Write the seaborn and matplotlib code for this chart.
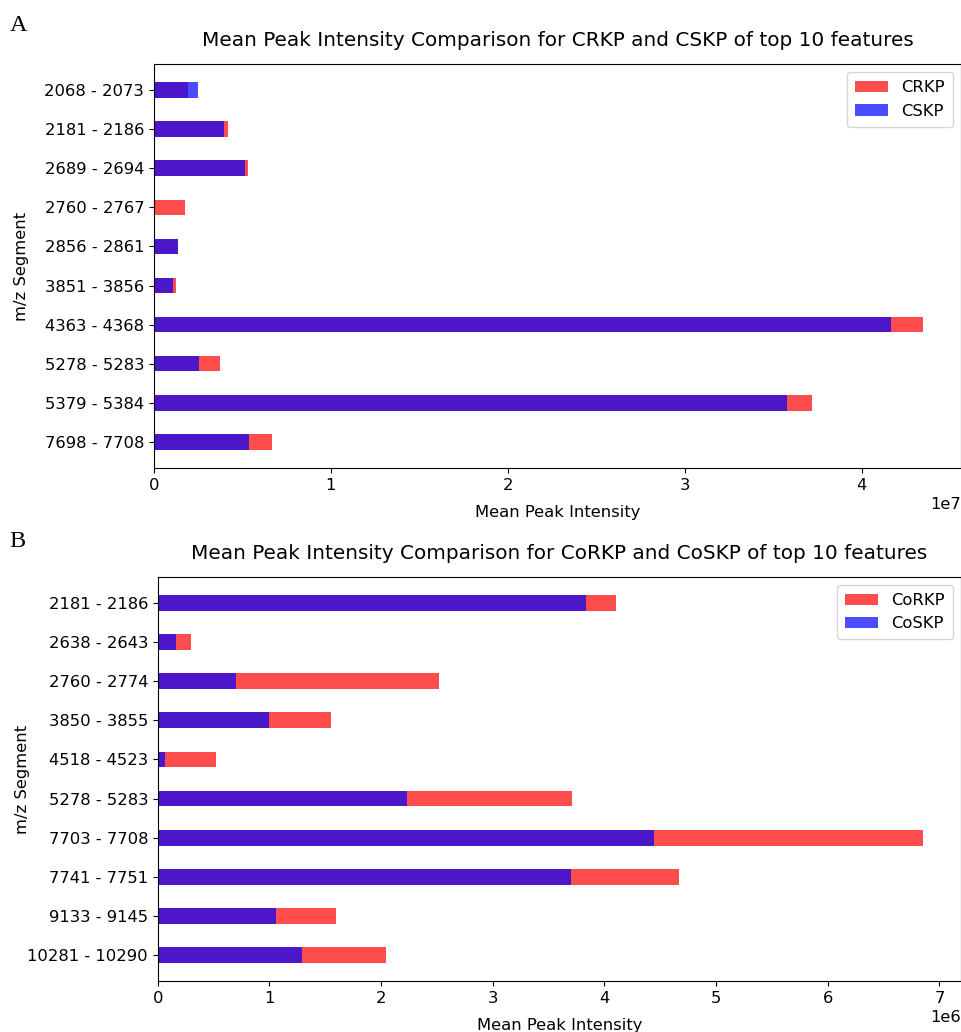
import matplotlib
matplotlib.use("Agg")
import matplotlib.pyplot as plt
import seaborn as sns

# Panel A: carbapenem-resistant vs. susceptible K. pneumoniae
segments_a = ["2068 - 2073", "2181 - 2186", "2689 - 2694", "2760 - 2767", "2856 - 2861",
              "3851 - 3856", "4363 - 4368", "5278 - 5283", "5379 - 5384", "7698 - 7708"]
crkp = [0.190e7, 0.416e7, 0.534e7, 0.177e7, 0.136e7, 0.126e7, 4.345e7, 0.371e7, 3.720e7, 0.670e7]
cskp = [0.248e7, 0.397e7, 0.513e7, 0.008e7, 0.137e7, 0.109e7, 4.165e7, 0.254e7, 3.576e7, 0.538e7]

# Panel B: colistin-resistant vs. susceptible K. pneumoniae
segments_b = ["2181 - 2186", "2638 - 2643", "2760 - 2774", "3850 - 3855", "4518 - 4523",
              "5278 - 5283", "7703 - 7708", "7741 - 7751", "9133 - 9145", "10281 - 10290"]
corkp = [4.107e6, 0.295e6, 2.517e6, 1.555e6, 0.518e6, 3.711e6, 6.851e6, 4.665e6, 1.596e6, 2.040e6]
coskp = [3.839e6, 0.164e6, 0.700e6, 0.998e6, 0.065e6, 2.228e6, 4.444e6, 3.700e6, 1.063e6, 1.290e6]

FS = 11.8
BAR_W = 0.4


def draw_panel(ax, segments, resistant, susceptible, labels, title, ylab_x):
    sns.barplot(x=resistant, y=segments, orient="h", color="red", alpha=0.7,
                width=BAR_W, saturation=1, errorbar=None, linewidth=0,
                label=labels[0], ax=ax)
    sns.barplot(x=susceptible, y=segments, orient="h", color="blue", alpha=0.7,
                width=BAR_W, saturation=1, errorbar=None, linewidth=0,
                label=labels[1], ax=ax)
    n = len(segments)
    pad = 0.05 * (n - 1 + BAR_W)
    ax.set_ylim(n - 1 + BAR_W / 2 + pad, -BAR_W / 2 - pad)
    ax.set_xlim(0, max(max(resistant), max(susceptible)) * 1.05)
    ax.set_title(title, fontsize=14.4, pad=13)
    ax.set_xlabel("Mean Peak Intensity", fontsize=FS, labelpad=8.5)
    ax.set_ylabel("m/z Segment", fontsize=FS)
    ax.yaxis.set_label_coords(ylab_x, 0.5)
    ax.tick_params(labelsize=FS)
    ax.xaxis.get_offset_text().set_fontsize(FS)
    ax.legend(loc="upper right", fontsize=FS, borderpad=0.5)


fig = plt.figure(figsize=(9.62, 10.32), dpi=100)
ax_a = fig.add_axes([0.160, 0.5465, 0.8390, 0.3915])
ax_b = fig.add_axes([0.164, 0.0491, 0.8350, 0.3921])

draw_panel(ax_a, segments_a, crkp, cskp, ["CRKP", "CSKP"],
           "Mean Peak Intensity Comparison for CRKP and CSKP of top 10 features", -0.155)
draw_panel(ax_b, segments_b, corkp, coskp, ["CoRKP", "CoSKP"],
           "Mean Peak Intensity Comparison for CoRKP and CoSKP of top 10 features", -0.159)

fig.text(0.010, 0.970, "A", family="Liberation Serif", fontsize=17.5, va="baseline")
fig.text(0.010, 0.4703, "B", family="Liberation Serif", fontsize=17.5, va="baseline")

fig.savefig("out.png", dpi=100)
